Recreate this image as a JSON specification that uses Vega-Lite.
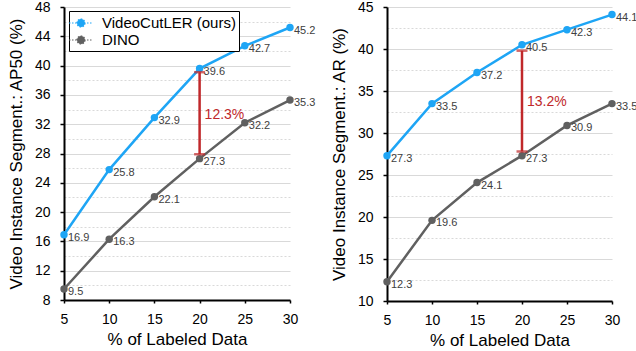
{
  "$schema": "https://vega.github.io/schema/vega-lite/v6.json",
  "padding": {"left": 7, "top": 0, "right": 0, "bottom": 0},
  "spacing": 14,
  "datasets": {
    "main": [
      {"panel": "AP50", "series": "VideoCutLER (ours)", "x": 5, "value": 16.9},
      {"panel": "AP50", "series": "VideoCutLER (ours)", "x": 10, "value": 25.8},
      {"panel": "AP50", "series": "VideoCutLER (ours)", "x": 15, "value": 32.9},
      {"panel": "AP50", "series": "VideoCutLER (ours)", "x": 20, "value": 39.6},
      {"panel": "AP50", "series": "VideoCutLER (ours)", "x": 25, "value": 42.7},
      {"panel": "AP50", "series": "VideoCutLER (ours)", "x": 30, "value": 45.2},
      {"panel": "AP50", "series": "DINO", "x": 5, "value": 9.5},
      {"panel": "AP50", "series": "DINO", "x": 10, "value": 16.3},
      {"panel": "AP50", "series": "DINO", "x": 15, "value": 22.1},
      {"panel": "AP50", "series": "DINO", "x": 20, "value": 27.3},
      {"panel": "AP50", "series": "DINO", "x": 25, "value": 32.2},
      {"panel": "AP50", "series": "DINO", "x": 30, "value": 35.3},
      {"panel": "AR", "series": "VideoCutLER (ours)", "x": 5, "value": 27.3},
      {"panel": "AR", "series": "VideoCutLER (ours)", "x": 10, "value": 33.5},
      {"panel": "AR", "series": "VideoCutLER (ours)", "x": 15, "value": 37.2},
      {"panel": "AR", "series": "VideoCutLER (ours)", "x": 20, "value": 40.5},
      {"panel": "AR", "series": "VideoCutLER (ours)", "x": 25, "value": 42.3},
      {"panel": "AR", "series": "VideoCutLER (ours)", "x": 30, "value": 44.1},
      {"panel": "AR", "series": "DINO", "x": 5, "value": 12.3},
      {"panel": "AR", "series": "DINO", "x": 10, "value": 19.6},
      {"panel": "AR", "series": "DINO", "x": 15, "value": 24.1},
      {"panel": "AR", "series": "DINO", "x": 20, "value": 27.3},
      {"panel": "AR", "series": "DINO", "x": 25, "value": 30.9},
      {"panel": "AR", "series": "DINO", "x": 30, "value": 33.5}
    ],
    "ann": [
      {"panel": "AP50", "x": 20, "low": 27.9, "high": 39.1, "mid": 33.2, "label": "12.3%"},
      {"panel": "AR", "x": 20, "low": 27.8, "high": 39.8, "mid": 33.7, "label": "13.2%"}
    ]
  },
  "resolve": {"scale": {"color": "independent", "y": "independent"}, "legend": {"color": "independent"}},
  "hconcat": [
    {
      "width": 226,
      "height": 293,
      "layer": [
        {
          "data": {"name": "main"},
          "transform": [{"filter": "datum.panel == 'AP50'"}],
          "mark": {"type": "line", "strokeWidth": 2.5},
          "encoding": {
            "x": {"field": "x", "type": "quantitative", "scale": {"domain": [5, 30], "nice": false},
              "axis": {"title": "% of Labeled Data", "values": [5, 10, 15, 20, 25, 30], "format": "d", "grid": false}},
            "y": {"field": "value", "type": "quantitative", "scale": {"domain": [8, 48], "nice": false},
              "axis": {"title": "Video Instance Segment.: AP50 (%)",
                "values": [8, 10, 12, 14, 16, 18, 20, 22, 24, 26, 28, 30, 32, 34, 36, 38, 40, 42, 44, 46, 48],
                "tickCount": 100, "format": "d",
                "labelOverlap": false,
                "labelExpr": "datum.value % 4 == 0 ? datum.label : ''",
                "gridDash": {"condition": {"test": "datum.value % 4 != 0", "value": [2, 2]}, "value": []},
                "tickOpacity": {"condition": {"test": "datum.value % 4 != 0", "value": 0}, "value": 1}}},
            "color": {"field": "series", "type": "nominal",
              "scale": {"domain": ["VideoCutLER (ours)", "DINO"], "range": ["#1ea5f5", "#606060"]},
              "legend": {"title": null, "orient": "none", "legendX": 5, "legendY": 4,
                "symbolType": "M-1.5,0H1.5M0.5,0A0.5,0.5,0,1,1,-0.5,0A0.5,0.5,0,1,1,0.5,0Z",
                "symbolSize": 256, "symbolStrokeWidth": 1.2, "symbolDash": [1.5, 1.5],
                "labelFont": "Liberation Sans", "labelFontSize": 15, "labelColor": "black",
                "labelOffset": 12, "fillColor": "white", "strokeColor": "black", "padding": 3, "rowPadding": 0,
                "labelLimit": 300}}
          }
        },
        {
          "data": {"name": "main"},
          "transform": [{"filter": "datum.panel == 'AP50'"}],
          "mark": {"type": "point", "filled": true, "size": 55, "opacity": 1},
          "encoding": {
            "x": {"field": "x", "type": "quantitative"},
            "y": {"field": "value", "type": "quantitative"},
            "color": {"field": "series", "type": "nominal"}
          }
        },
        {
          "data": {"name": "main"},
          "transform": [{"filter": "datum.panel == 'AP50'"}],
          "mark": {"type": "text", "align": "left", "dx": 4, "dy": 3, "fontSize": 11, "font": "Liberation Sans", "color": "#404040"},
          "encoding": {
            "x": {"field": "x", "type": "quantitative"},
            "y": {"field": "value", "type": "quantitative"},
            "text": {"field": "value", "type": "quantitative", "format": ".1f"}
          }
        },
        {
          "data": {"name": "ann"},
          "transform": [{"filter": "datum.panel == 'AP50'"}],
          "mark": {"type": "rule", "color": "#c0282a", "strokeWidth": 2.5},
          "encoding": {
            "x": {"field": "x", "type": "quantitative"},
            "y": {"field": "low", "type": "quantitative"},
            "y2": {"field": "high"}
          }
        },
        {
          "data": {"name": "ann"},
          "transform": [{"filter": "datum.panel == 'AP50'"}, {"fold": ["low", "high"]}],
          "mark": {"type": "tick", "orient": "horizontal", "color": "#c0282a", "size": 11, "thickness": 2.5},
          "encoding": {
            "x": {"field": "x", "type": "quantitative"},
            "y": {"field": "value", "type": "quantitative"}
          }
        },
        {
          "data": {"name": "ann"},
          "transform": [{"filter": "datum.panel == 'AP50'"}],
          "mark": {"type": "text", "align": "left", "dx": 5, "fontSize": 14, "font": "Liberation Sans", "color": "#c0282a"},
          "encoding": {
            "x": {"field": "x", "type": "quantitative"},
            "y": {"field": "mid", "type": "quantitative"},
            "text": {"field": "label"}
          }
        }
      ]
    },
    {
      "width": 225,
      "height": 294,
      "layer": [
        {
          "data": {"name": "main"},
          "transform": [{"filter": "datum.panel == 'AR'"}],
          "mark": {"type": "line", "strokeWidth": 2.5},
          "encoding": {
            "x": {"field": "x", "type": "quantitative", "scale": {"domain": [5, 30], "nice": false},
              "axis": {"title": "% of Labeled Data", "values": [5, 10, 15, 20, 25, 30], "format": "d", "grid": false}},
            "y": {"field": "value", "type": "quantitative", "scale": {"domain": [10, 45], "nice": false},
              "axis": {"title": "Video Instance Segment.: AR (%)",
                "values": [10, 12.5, 15, 17.5, 20, 22.5, 25, 27.5, 30, 32.5, 35, 37.5, 40, 42.5, 45],
                "tickCount": 100, "format": "d",
                "labelOverlap": false,
                "labelExpr": "datum.value % 5 == 0 ? datum.label : ''",
                "gridDash": {"condition": {"test": "datum.value % 5 != 0", "value": [2, 2]}, "value": []},
                "tickOpacity": {"condition": {"test": "datum.value % 5 != 0", "value": 0}, "value": 1}}},
            "color": {"field": "series", "type": "nominal",
              "scale": {"domain": ["VideoCutLER (ours)", "DINO"], "range": ["#1ea5f5", "#606060"]},
              "legend": null}
          }
        },
        {
          "data": {"name": "main"},
          "transform": [{"filter": "datum.panel == 'AR'"}],
          "mark": {"type": "point", "filled": true, "size": 55, "opacity": 1},
          "encoding": {
            "x": {"field": "x", "type": "quantitative"},
            "y": {"field": "value", "type": "quantitative"},
            "color": {"field": "series", "type": "nominal", "legend": null}
          }
        },
        {
          "data": {"name": "main"},
          "transform": [{"filter": "datum.panel == 'AR'"}],
          "mark": {"type": "text", "align": "left", "dx": 4, "dy": 3, "fontSize": 11, "font": "Liberation Sans", "color": "#404040"},
          "encoding": {
            "x": {"field": "x", "type": "quantitative"},
            "y": {"field": "value", "type": "quantitative"},
            "text": {"field": "value", "type": "quantitative", "format": ".1f"}
          }
        },
        {
          "data": {"name": "ann"},
          "transform": [{"filter": "datum.panel == 'AR'"}],
          "mark": {"type": "rule", "color": "#c0282a", "strokeWidth": 2.5},
          "encoding": {
            "x": {"field": "x", "type": "quantitative"},
            "y": {"field": "low", "type": "quantitative"},
            "y2": {"field": "high"}
          }
        },
        {
          "data": {"name": "ann"},
          "transform": [{"filter": "datum.panel == 'AR'"}, {"fold": ["low", "high"]}],
          "mark": {"type": "tick", "orient": "horizontal", "color": "#c0282a", "size": 11, "thickness": 2.5},
          "encoding": {
            "x": {"field": "x", "type": "quantitative"},
            "y": {"field": "value", "type": "quantitative"}
          }
        },
        {
          "data": {"name": "ann"},
          "transform": [{"filter": "datum.panel == 'AR'"}],
          "mark": {"type": "text", "align": "left", "dx": 5, "fontSize": 14, "font": "Liberation Sans", "color": "#c0282a"},
          "encoding": {
            "x": {"field": "x", "type": "quantitative"},
            "y": {"field": "mid", "type": "quantitative"},
            "text": {"field": "label"}
          }
        }
      ]
    }
  ],
  "config": {
    "view": {"stroke": null},
    "font": "Liberation Sans",
    "axis": {
      "labelFont": "Liberation Sans", "labelFontSize": 14, "labelColor": "black", "labelBound": false, "labelFlush": false,
      "titleFont": "Liberation Sans", "titleFontSize": 17, "titleFontWeight": "normal", "titleColor": "black",
      "domainColor": "black", "domainWidth": 2, "tickColor": "black", "tickWidth": 1.5,
      "gridColor": "#d9d9d9", "gridWidth": 1
    },
    "axisY": {"tickSize": 4, "labelPadding": 10, "titlePadding": 9},
    "axisX": {"tickSize": 3, "labelPadding": 9, "titlePadding": 5}
  }
}
